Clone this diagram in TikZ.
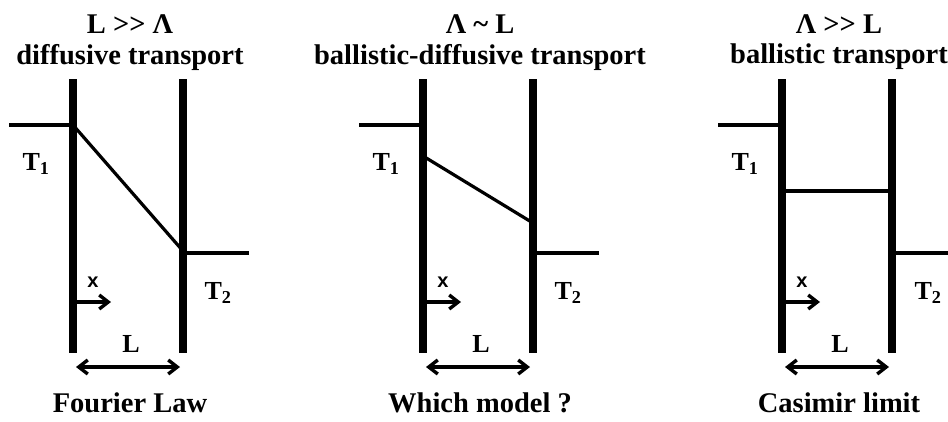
\documentclass[tikz,border=0pt]{standalone}
\usepackage{fontspec}
\setmainfont{Liberation Serif}
\setsansfont{Liberation Sans}
\usetikzlibrary{arrows.meta}

\begin{document}
\begin{tikzpicture}[x=1pt,y=-1pt,>={Straight Barb[length=9pt,width=14pt]},
  wall/.style={line width=7.5pt},
  bath/.style={line width=4.5pt},
  prof/.style={line width=3.2pt},
  arr/.style={line width=3.4pt},
  big/.style={font=\bfseries\fontsize{28.5}{30}\selectfont},
  temp/.style={font=\bfseries\fontsize{26}{28}\selectfont},
  axis/.style={font=\sffamily\bfseries\fontsize{20}{22}\selectfont}]
\useasboundingbox (0,0) rectangle (948,421);
\foreach \xl/\ya/\yb/\tx/\hd/\kind/\ft in {
  73/125/251/145/{L >{}> Λ}/{diffusive transport}/{Fourier Law},
  423/156/223/145/{Λ \textasciitilde{} L}/{ballistic-diffusive transport}/{Which model ?},
  782/191/191/146/{Λ >{}> L}/{ballistic transport}/{Casimir limit}}
{
  % walls
  \coordinate (lt) at (\xl,79);
  \coordinate (lb) at (\xl,353);
  \coordinate (rt) at (\xl+110,79);
  \coordinate (rb) at (\xl+110,353);
  \draw[wall] (lt) -- (lb);
  \draw[wall] (rt) -- (rb);
  % reservoirs
  \coordinate (h1) at (\xl-64,125);
  \coordinate (w1) at (\xl,125);
  \coordinate (w2) at (\xl+110,253);
  \coordinate (h2) at (\xl+176,253);
  \draw[bath] (h1) -- (w1);
  \draw[bath] (w2) -- (h2);
  % temperature profile
  \coordinate (p1) at (\xl,\ya);
  \coordinate (p2) at (\xl+110,\yb);
  \draw[prof] (p1) -- (p2);
  \node[temp] (t1) at (\xl-37,164) {T\textsubscript{1}};
  \node[temp] (t2) at (\xl+\tx,293) {T\textsubscript{2}};
  % x axis and length
  \coordinate (x0) at (\xl+3,302);
  \coordinate (x1) at (\xl+38,302);
  \draw[arr,->] (x0) -- (x1);
  \node[axis] (xl) at (\xl+20,282) {x};
  \coordinate (l0) at (\xl+3,367);
  \coordinate (l1) at (\xl+107,367);
  \draw[arr,<->] (l0) -- (l1);
  \node[temp] (ll) at (\xl+58,344) {L};
  % titles
  \node[big] (hd) at (\xl+57,24) {\hd};
  \node[big] (kd) at (\xl+57,57) {\kind};
  \node[big] (ft) at (\xl+57,403) {\ft};
}
\end{tikzpicture}
\end{document}
